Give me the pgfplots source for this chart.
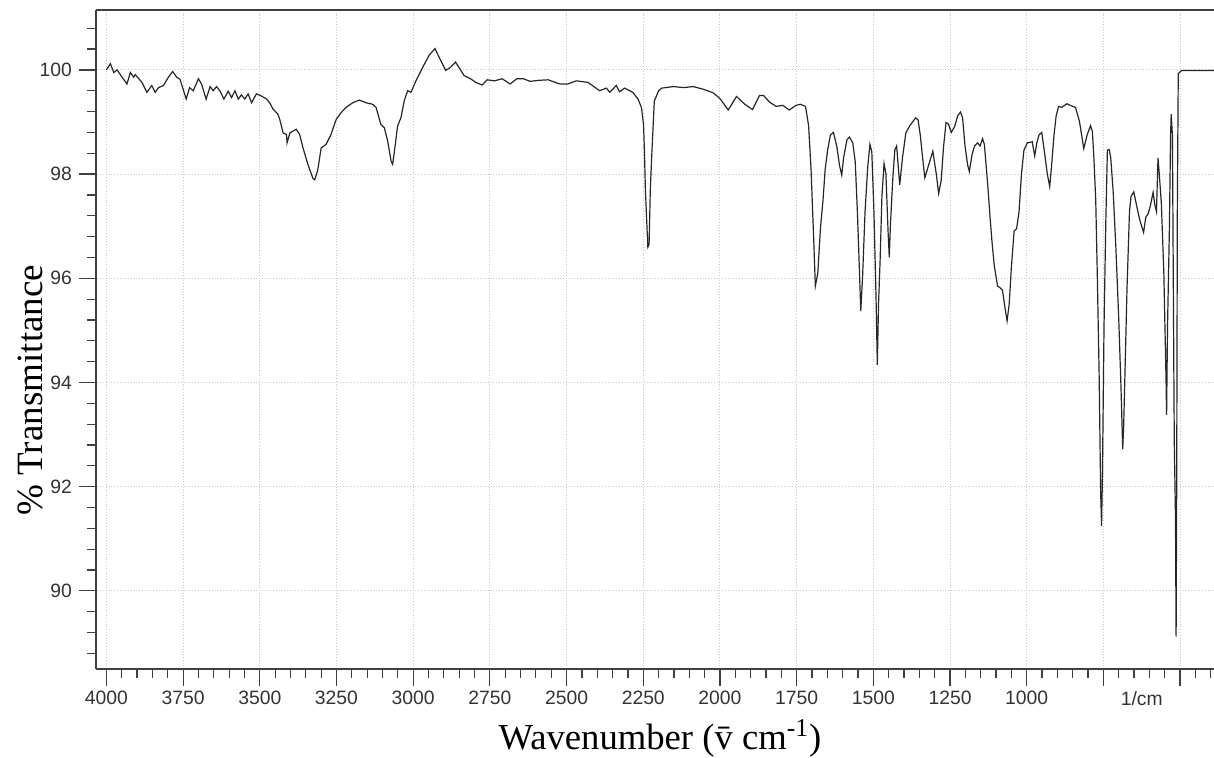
\documentclass[border=0pt]{standalone}
\usepackage{pgfplots}
\pgfplotsset{compat=1.18}
\usepackage{fontspec}
\setmainfont{Liberation Serif}
\newfontfamily\arial{Liberation Sans}
\pgfplotstableread{
x y
4000 100.0
3987 100.12
3976 99.95
3965 100.0
3949 99.86
3933 99.73
3922 99.95
3911 99.86
3906 99.91
3884 99.76
3868 99.57
3852 99.70
3841 99.57
3830 99.66
3814 99.70
3798 99.86
3784 99.97
3771 99.86
3760 99.82
3740 99.44
3729 99.66
3717 99.60
3700 99.83
3690 99.73
3675 99.44
3662 99.68
3652 99.60
3641 99.68
3630 99.60
3617 99.44
3603 99.59
3592 99.47
3581 99.60
3570 99.44
3560 99.52
3549 99.44
3538 99.54
3527 99.37
3511 99.54
3495 99.50
3478 99.44
3468 99.37
3457 99.25
3441 99.15
3435 99.05
3424 98.79
3413 98.76
3411 98.60
3402 98.79
3381 98.86
3370 98.76
3359 98.50
3343 98.18
3327 97.92
3321 97.89
3311 98.08
3300 98.50
3284 98.57
3268 98.76
3251 99.05
3235 99.18
3219 99.28
3197 99.37
3175 99.42
3154 99.37
3132 99.34
3121 99.28
3105 98.95
3094 98.89
3083 98.63
3072 98.25
3067 98.19
3061 98.44
3051 98.92
3040 99.08
3029 99.41
3018 99.60
3007 99.57
2991 99.79
2969 100.05
2948 100.28
2929 100.41
2916 100.25
2894 99.99
2878 100.05
2862 100.15
2851 100.05
2834 99.89
2813 99.83
2796 99.76
2775 99.71
2759 99.81
2735 99.79
2710 99.83
2684 99.73
2662 99.83
2640 99.83
2619 99.78
2590 99.80
2560 99.81
2522 99.73
2496 99.73
2468 99.79
2430 99.76
2392 99.60
2370 99.65
2359 99.57
2338 99.70
2327 99.58
2311 99.65
2284 99.57
2267 99.44
2256 99.28
2249 98.95
2246 98.40
2243 97.70
2238 97.00
2235 96.60
2231 96.65
2227 97.70
2222 98.40
2214 99.40
2200 99.60
2190 99.65
2152 99.68
2119 99.66
2087 99.68
2055 99.63
2022 99.56
2000 99.45
1973 99.23
1946 99.49
1919 99.34
1894 99.24
1871 99.51
1858 99.51
1838 99.38
1817 99.30
1795 99.32
1774 99.23
1752 99.32
1738 99.34
1721 99.30
1711 98.93
1703 98.09
1694 96.69
1689 95.85
1681 96.10
1672 96.99
1664 97.50
1657 98.09
1649 98.46
1640 98.75
1630 98.80
1619 98.53
1610 98.16
1603 97.98
1597 98.31
1586 98.66
1578 98.71
1567 98.60
1559 98.24
1552 97.28
1545 96.10
1541 95.37
1535 96.03
1527 97.28
1518 98.16
1511 98.57
1505 98.43
1498 97.28
1491 95.59
1487 94.34
1483 95.51
1478 96.32
1472 97.57
1465 98.20
1459 98.01
1452 96.91
1448 96.40
1444 97.06
1437 97.87
1430 98.46
1424 98.54
1418 98.09
1414 97.79
1405 98.31
1394 98.79
1381 98.93
1362 99.08
1354 99.04
1347 98.75
1336 98.13
1332 97.93
1322 98.13
1306 98.44
1295 98.01
1287 97.63
1279 97.87
1271 98.53
1263 98.99
1255 98.96
1246 98.80
1235 98.91
1225 99.12
1216 99.19
1209 99.08
1201 98.53
1192 98.16
1187 98.05
1178 98.38
1170 98.54
1160 98.60
1152 98.54
1144 98.68
1138 98.57
1127 97.79
1120 97.21
1113 96.69
1106 96.25
1095 95.85
1087 95.82
1079 95.77
1071 95.44
1064 95.18
1057 95.51
1050 96.21
1041 96.91
1033 96.95
1025 97.28
1017 98.01
1009 98.46
998 98.60
982 98.62
974 98.35
967 98.60
960 98.75
951 98.80
942 98.42
933 98.01
925 97.76
919 98.16
911 98.75
904 99.12
896 99.30
886 99.28
869 99.35
858 99.32
841 99.28
828 99.01
814 98.49
803 98.75
792 98.93
786 98.82
781 98.31
775 97.50
770 96.10
764 94.19
759 91.91
756 91.25
753 92.28
748 95.07
742 97.13
737 98.46
731 98.47
726 98.31
718 97.65
709 96.54
700 95.22
693 93.97
687 92.72
684 93.16
679 94.34
673 95.81
665 97.28
660 97.57
651 97.66
643 97.43
632 97.13
619 96.88
612 97.17
604 97.24
597 97.39
588 97.65
583 97.43
577 97.28
572 98.31
568 98.01
561 97.43
553 96.10
546 94.12
544 93.38
541 95.07
535 96.91
531 98.75
529 99.15
525 98.75
522 95.81
519 92.87
515 91.40
513 89.12
511 92.13
509 97.28
506 99.93
494 99.99
390 99.99
}\spectrum
\begin{document}
\begin{tikzpicture}
\begin{axis}[
  at={(0,0)}, anchor=south west,
  scale only axis,
  width=559bp, height=329.5bp,
  x dir=reverse,
  xmin=389.5, xmax=4034,
  ymin=88.5, ymax=101.15,
  axis x line=box, axis y line=left,
  axis line style={-, draw=black!75, line width=0.75bp},
  xtick pos=bottom, ytick pos=left,
  tick align=outside,
  xtick={500,750,...,4000},
  xticklabels={,,1000,1250,1500,1750,2000,2250,2500,2750,3000,3250,3500,3750,4000},
  minor xtick={400,450,...,4000},
  ytick={90,92,...,100},
  minor ytick={88.8,89.2,...,100.8},
  extra x ticks={625},
  extra x tick labels={1/cm},
  extra x tick style={grid=none, major tick style={draw=none}},
  major tick length=8.5bp, minor tick length=4.5bp,
  every tick/.style={black!75, line width=0.6bp},
  grid=major,
  major grid style={densely dotted, black!22, line width=0.5bp},
  tick label style={font=\arial\fontsize{9.7}{11}\selectfont, text=black!80},
  xticklabel style={yshift=1bp},
  /pgf/number format/assume math mode=true,
  /pgf/number format/1000 sep={},
  xlabel={Wavenumber (\={v} cm\textsuperscript{-1})},
  ylabel={\% Transmittance},
  every axis x label/.style={at={(axis description cs:0.5045,-0.105)}, anchor=center, font=\fontsize{18.4}{20}\selectfont},
  every axis y label/.style={at={(axis description cs:-0.059,0.423)}, rotate=90, anchor=center, font=\fontsize{18.6}{20}\selectfont},
]
\addplot[black!85, line width=0.6bp, mark=none] table[x=x, y=y] {\spectrum};
\end{axis}
\pgfresetboundingbox
\path (-48bp,-44.5bp) rectangle (559bp,334.5bp);
\end{tikzpicture}
\end{document}
